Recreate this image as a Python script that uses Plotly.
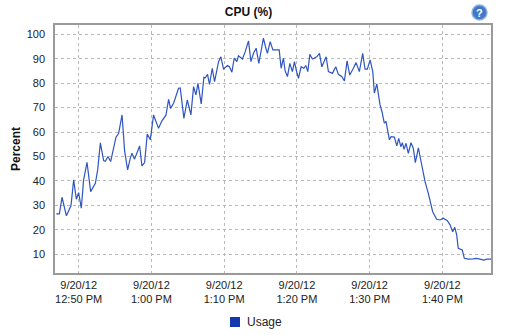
import plotly.graph_objects as go

# CPU usage samples for 9/20/12 (time of day, percent)
times = [
    "12:46:56", "12:47:21", "12:47:43", "12:48:19", "12:48:57", "12:49:19", "12:49:41", "12:50:00",
    "12:50:22", "12:50:41", "12:51:09", "12:51:39", "12:52:18", "12:52:37", "12:52:59", "12:53:26",
    "12:53:40", "12:54:02", "12:54:24", "12:55:08", "12:55:30", "12:55:58", "12:56:19", "12:56:44",
    "12:57:06", "12:57:20", "12:57:41", "12:58:23", "12:58:42", "12:59:04", "12:59:26", "12:59:51",
    "13:00:18", "13:00:59", "13:01:27", "13:02:00", "13:02:22", "13:02:38", "13:03:03", "13:03:44",
    "13:03:58", "13:04:28", "13:04:56", "13:05:26", "13:05:48", "13:06:07", "13:06:24", "13:06:51",
    "13:07:13", "13:07:24", "13:07:43", "13:07:59", "13:08:22", "13:08:41", "13:09:14", "13:09:33",
    "13:09:55", "13:10:28", "13:10:44", "13:11:04", "13:11:23", "13:11:45", "13:11:58", "13:12:31",
    "13:12:54", "13:13:21", "13:13:41", "13:14:02", "13:14:24", "13:14:46", "13:15:11", "13:15:24",
    "13:15:41", "13:15:57", "13:16:20", "13:16:42", "13:17:34", "13:17:50", "13:18:09", "13:18:23",
    "13:18:42", "13:19:02", "13:19:23", "13:19:40", "13:19:54", "13:20:13", "13:20:35", "13:20:57",
    "13:21:14", "13:21:30", "13:21:47", "13:22:08", "13:22:44", "13:23:06", "13:23:26", "13:23:45",
    "13:24:01", "13:24:20", "13:24:53", "13:25:21", "13:25:42", "13:26:10", "13:26:32", "13:26:54",
    "13:27:16", "13:27:46", "13:28:08", "13:28:35", "13:29:03", "13:29:22", "13:29:41", "13:30:04",
    "13:30:26", "13:30:39", "13:30:59", "13:31:26", "13:31:42", "13:32:01", "13:32:15", "13:32:43",
    "13:32:57", "13:33:24", "13:33:44", "13:34:00", "13:34:17", "13:34:30", "13:34:44", "13:35:00",
    "13:35:19", "13:35:41", "13:36:00", "13:36:17", "13:36:42", "13:37:10", "13:37:37", "13:38:04",
    "13:38:40", "13:39:13", "13:39:40", "13:40:08", "13:40:41", "13:41:03", "13:41:25", "13:41:42",
    "13:41:58", "13:42:11", "13:42:31", "13:42:44", "13:43:01", "13:43:34", "13:44:15", "13:44:43",
    "13:45:10", "13:45:43", "13:46:05", "13:46:41",
]
usage = [
    26.5, 26.5, 33.3, 25.7, 29.9, 40.4, 32.5, 35.2,
    28.8, 40.4, 47.6, 35.6, 39.0, 44.5, 55.6, 48.3,
    48.0, 50.0, 47.9, 57.9, 59.5, 67.0, 52.3, 44.5,
    49.3, 51.3, 48.9, 54.3, 46.1, 47.5, 59.2, 56.8,
    67.0, 61.5, 64.6, 66.9, 73.4, 69.7, 71.8, 77.9,
    78.0, 65.6, 73.1, 67.0, 78.6, 75.2, 79.9, 71.5,
    82.4, 82.2, 83.6, 79.5, 86.1, 80.6, 88.8, 90.8,
    85.8, 87.2, 86.7, 84.5, 90.2, 88.8, 91.2, 89.9,
    92.9, 97.3, 88.8, 92.2, 94.3, 88.1, 94.9, 98.4,
    94.9, 92.2, 97.0, 93.6, 93.6, 86.1, 90.2, 85.0,
    82.7, 88.1, 84.7, 88.8, 85.4, 82.0, 86.7, 86.1,
    87.2, 84.7, 91.8, 89.9, 90.8, 92.2, 86.7, 88.8,
    90.8, 84.7, 84.0, 86.7, 83.6, 82.7, 80.9, 89.1,
    83.3, 86.1, 88.4, 84.7, 92.2, 85.7, 85.7, 89.5,
    84.7, 75.9, 79.7, 71.1, 68.3, 63.6, 64.4, 56.8,
    58.1, 57.9, 54.3, 57.4, 54.0, 55.6, 52.9, 55.4,
    51.3, 55.6, 53.4, 47.5, 53.5, 46.5, 39.7, 34.9,
    27.4, 24.3, 24.0, 24.7, 23.7, 22.0, 19.2, 21.0,
    17.9, 12.4, 12.1, 11.7, 8.3, 8.0, 8.1, 8.3,
    8.0, 7.6, 8.0, 8.0,
]

series_name = "Usage"
day = "2012-09-20"
tick_times = ["12:50", "13:00", "13:10", "13:20", "13:30", "13:40"]
tick_labels = ["12:50 PM", "1:00 PM", "1:10 PM", "1:20 PM", "1:30 PM", "1:40 PM"]
y_ticks = [10, 20, 30, 40, 50, 60, 70, 80, 90, 100]

x = [f"{day} {t}" for t in times]
tickvals = [f"{day} {t}:00" for t in tick_times]
ticktext = [f"9/20/12<br>{lbl}" for lbl in tick_labels]

FONT = "Liberation Sans, Arial, sans-serif"
LINE_BLUE = "#2f55c0"
KEY_BLUE = "#1238b0"

W, H = 513, 335
L, R, T, B = 55, 22, 25, 62
PW, PH = W - L - R, H - T - B


def px(xp):
    """pixel column -> paper x"""
    return (xp - L) / PW


def py(yp):
    """pixel row -> paper y"""
    return (H - B - yp) / PH


fig = go.Figure()
fig.add_trace(go.Scatter(
    x=x, y=usage, mode="lines", name=series_name, showlegend=False,
    line=dict(color=LINE_BLUE, width=1.2), hoverinfo="x+y",
))

grid = dict(showgrid=True, gridcolor="#b8b8b8", griddash="dot", gridwidth=1)

fig.update_layout(
    width=W, height=H,
    margin=dict(l=L, r=R, t=T, b=B, autoexpand=False),
    paper_bgcolor="white", plot_bgcolor="white",
    font=dict(family=FONT, size=11, color="#222222"),
    title=dict(text="<b>CPU (%)</b>", x=248.5 / W, xanchor="center",
               y=1 - 12 / H, yanchor="middle",
               font=dict(family=FONT, size=12, color="#111111")),
    xaxis=dict(
        range=[f"{day} 12:46:45", f"{day} 13:46:41"],
        tickmode="array", tickvals=tickvals, ticktext=ticktext,
        ticks="", ticklabelstandoff=1,
        showline=True, linecolor="#9a9a9a", linewidth=1.5, mirror=True,
        zeroline=False, **grid,
    ),
    yaxis=dict(
        range=[2.3, 103.8], tickmode="array", tickvals=y_ticks,
        ticks="", ticklabelstandoff=6,
        showline=True, linecolor="#9a9a9a", linewidth=1.5, mirror=True,
        zeroline=False,
        title=dict(text="<b>Percent</b>", standoff=3,
                   font=dict(family=FONT, size=12, color="#111111")),
        **grid,
    ),
    showlegend=False,
)

# series key below the axis: filled square followed by the series name
fig.add_shape(type="rect", xref="paper", yref="paper",
              x0=px(230), x1=px(240), y0=py(327), y1=py(317),
              fillcolor=KEY_BLUE, line=dict(width=0))
fig.add_annotation(text=series_name, xref="paper", yref="paper",
                   x=px(245), y=py(322), xanchor="left", yanchor="middle",
                   showarrow=False,
                   font=dict(family=FONT, size=12, color="#222222"))

# help badge in the top-right corner
fig.add_shape(type="circle", xref="paper", yref="paper", layer="below",
              x0=px(472), x1=px(487), y0=py(20), y1=py(5),
              fillcolor="#3f78c8", line=dict(color="#8fb0dc", width=1.5))
fig.add_annotation(text="<b>?</b>", xref="paper", yref="paper",
                   x=px(479.5), y=py(12.5), xanchor="center", yanchor="middle",
                   showarrow=False,
                   font=dict(family=FONT, size=11, color="white"))

fig.write_html("out.html")
